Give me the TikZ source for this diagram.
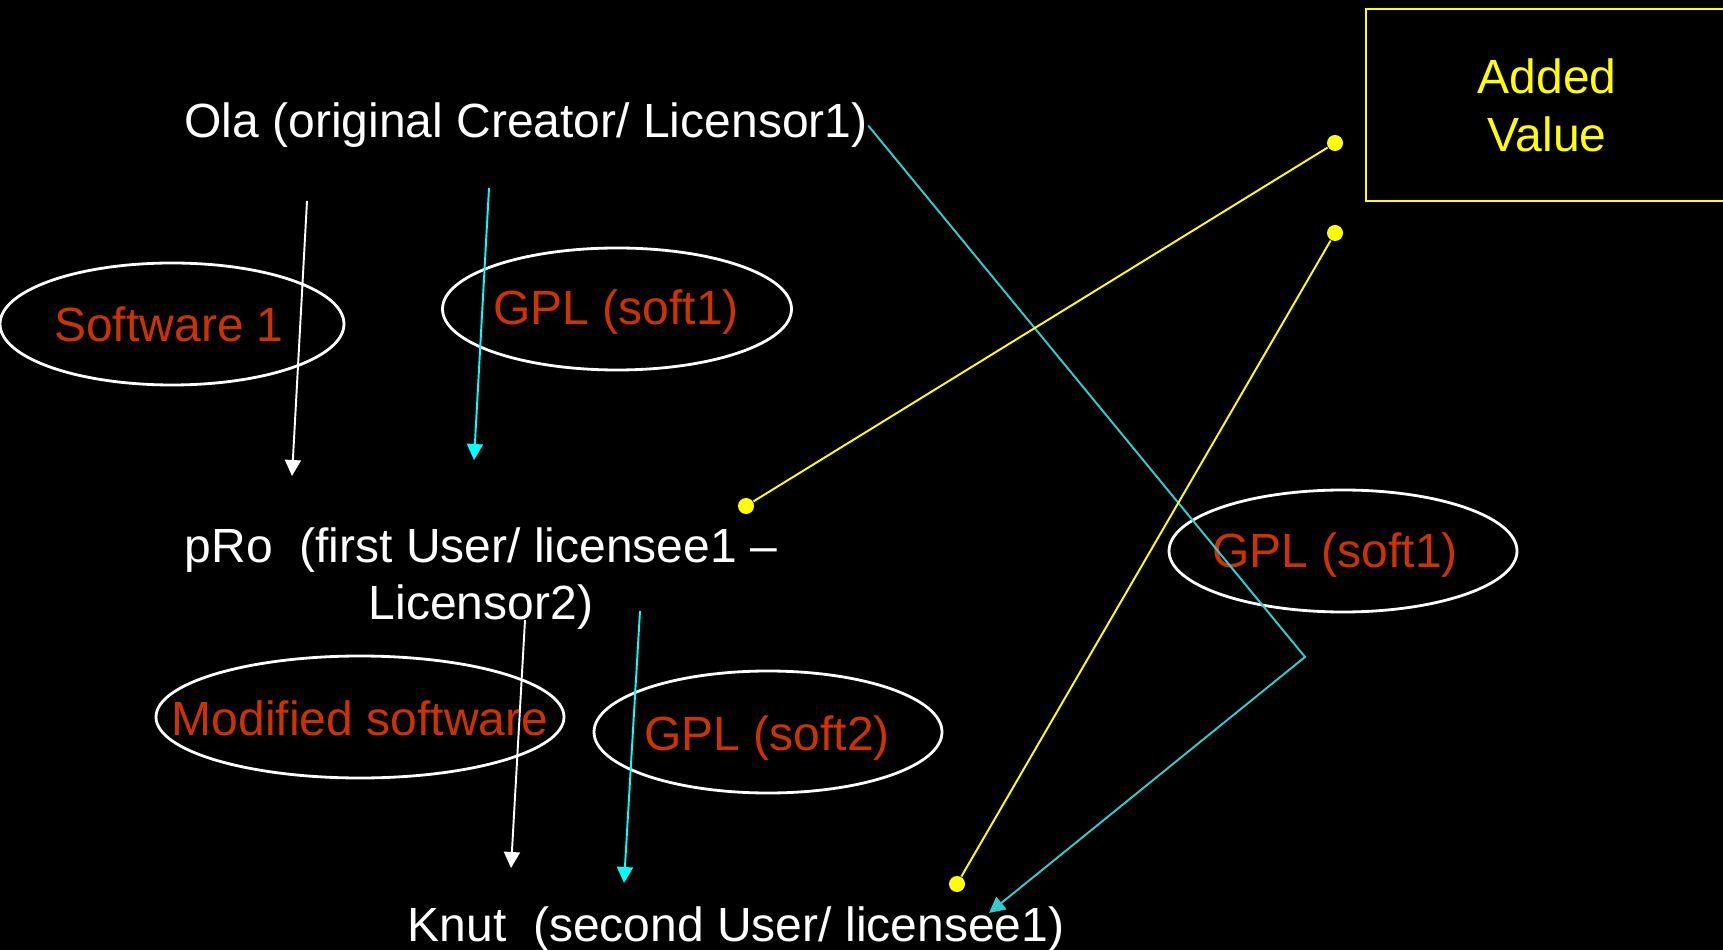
\documentclass[tikz,border=0pt]{standalone}
\usepackage{fontspec}
\setmainfont{Liberation Sans}
\usetikzlibrary{positioning}
\usetikzlibrary{shapes.geometric}
\usetikzlibrary{arrows.meta}
\definecolor{myorange}{RGB}{204,51,0}
\definecolor{mycyan}{RGB}{0,255,255}
\definecolor{myteal}{RGB}{51,204,204}
\definecolor{myyellow}{RGB}{255,255,0}

\begin{document}
\begin{tikzpicture}[x=0.1mm,y=-0.1mm,>={Triangle[length=1.6mm,width=1.6mm]}]
    % fondo negro
    \fill[black] (0,0) rectangle (1723,950);
    \useasboundingbox (0,0) rectangle (1723,950);
    \tikzstyle{every node}=[font=\fontsize{13.66}{16.5}\selectfont,inner sep=0pt]
    \tikzstyle{who}=[text=white,align=center,anchor=base]
    \tikzstyle{what}=[text=myorange,anchor=base]
    \tikzstyle{bubble}=[ellipse,draw=white,line width=0.8pt,minimum height=12.2mm]
    \tikzstyle{dot}=[circle,fill=myyellow,minimum size=1.6mm]
    \tikzstyle{flow}=[->,line width=0.55pt]

    \node[who] (ola) at (526,138) {Ola (original Creator/ Licensor1)};
    \node[who] (pro) at (481,620) {pRo\ \ (first User/ licensee1 --\\Licensor2)};
    \node[who] (knut) at (736,941) {Knut\ \ (second User/ licensee1)};

    \node[bubble,minimum width=34.4mm] (e_1) at (172,324) {};
    \node[bubble,minimum width=34.9mm] (e_2) at (617,309) {};
    \node[bubble,minimum width=40.8mm] (e_3) at (360,717) {};
    \node[bubble,minimum width=34.8mm] (e_4) at (768,732) {};
    \node[bubble,minimum width=34.8mm] (e_5) at (1343,551) {};
    \node[what] (soft_1) at (169,342) {Software 1};
    \node[what] (gpl_1) at (616,325) {GPL (soft1)};
    \node[what] (mod) at (360,735) {Modified software};
    \node[what] (gpl_2) at (767,750) {GPL (soft2)};
    \node[what] (gpl_3) at (1335,568) {GPL (soft1)};

    \node[draw=myyellow,line width=0.8pt,text=myyellow,align=center,
          minimum width=36.2mm,minimum height=19.2mm] (added) at (1547,105) {Added\\Value};

    \node[dot] (d_1) at (1335,143) {};
    \node[dot] (d_2) at (1335,233) {};
    \node[dot] (d_3) at (746,506) {};
    \node[dot] (d_4) at (957,884) {};

    \coordinate (s_1) at (307,201);  \coordinate (f_1) at (292,476);
    \coordinate (s_2) at (489,188);  \coordinate (f_2) at (474,460);
    \coordinate (s_3) at (525,620);  \coordinate (f_3) at (511,868);
    \coordinate (s_4) at (640,611);  \coordinate (f_4) at (624,883);
    \coordinate (bend) at (1305,657);
    \coordinate (tip) at (989,913);

    \draw[flow,white] (s_1) -- (f_1);
    \draw[flow,mycyan] (s_2) -- (f_2);
    \draw[flow,white] (s_3) -- (f_3);
    \draw[flow,mycyan] (s_4) -- (f_4);
    \draw[flow,myteal] (ola.east) -- (bend) -- (tip);
    \draw[myyellow,line width=0.55pt] (d_1) -- (d_3);
    \draw[myyellow,line width=0.55pt] (d_2) -- (d_4);
\end{tikzpicture}
\end{document}
